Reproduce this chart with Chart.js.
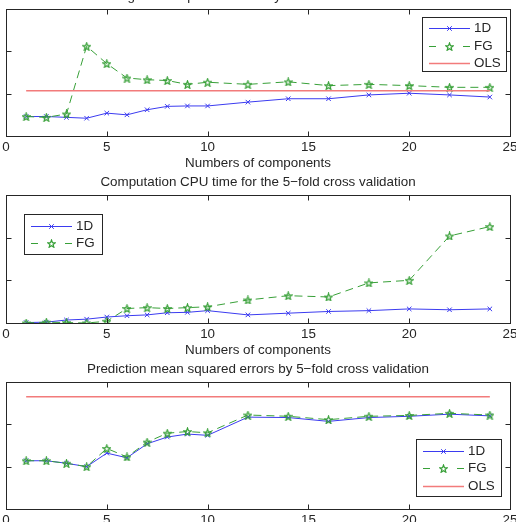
<!DOCTYPE html>
<html><head><meta charset="utf-8">
<script src="https://cdn.jsdelivr.net/npm/chart.js@4.4.0/dist/chart.umd.min.js"></script>
<style>
html,body{margin:0;padding:0;background:#fff;overflow:hidden;width:516px;height:522px;}
#wrap{position:relative;width:516px;height:522px;overflow:hidden;background:#fff;}
canvas{position:absolute;left:0;}
</style></head><body><div id="wrap">
<canvas id="c1" width="516" height="195" style="top:-19px"></canvas>
<canvas id="c2" width="516" height="196" style="top:167px"></canvas>
<canvas id="c3" width="516" height="195" style="top:354px"></canvas>
</div>
<script>
// ---------- data ----------
const components = [1,2,3,4,5,6,7,8,9,10,12,14,16,18,20,22,24];
const xTickLabels = [0,5,10,15,20,25];
const yTickValues = [0,1,2,3];

const fitTitle = "Fitting mean squared errors by 5\u2212fold cross validation";
const fit1D  = [0.46,0.46,0.44,0.42,0.54,0.50,0.62,0.70,0.71,0.71,0.80,0.88,0.88,0.97,1.01,0.97,0.92];
const fitFG  = [0.46,0.44,0.52,2.12,1.71,1.37,1.33,1.31,1.22,1.27,1.22,1.28,1.19,1.22,1.19,1.15,1.15];
const fitOLS = 1.07;

const cpuTitle = "Computation CPU time for the 5\u2212fold cross validation";
const cpu1D  = [0.01,0.02,0.07,0.09,0.14,0.17,0.19,0.24,0.25,0.29,0.19,0.23,0.27,0.29,0.33,0.31,0.33];
const cpuFG  = [0.00,0.02,0.01,0.00,0.04,0.34,0.36,0.34,0.36,0.38,0.54,0.64,0.61,0.94,1.00,2.04,2.26];

const predTitle = "Prediction mean squared errors by 5\u2212fold cross validation";
const pred1D  = [1.14,1.14,1.08,1.00,1.32,1.21,1.54,1.70,1.77,1.74,2.17,2.16,2.07,2.16,2.19,2.24,2.20];
const predFG  = [1.14,1.14,1.08,1.00,1.43,1.23,1.58,1.79,1.83,1.80,2.22,2.19,2.11,2.19,2.21,2.26,2.22];
const predOLS = 2.65;

const xAxisTitle = "Numbers of components";

// ---------- styles ----------
const BLUE = '#3b3bf0', GREEN = '#38a038', RED = '#f27b7b', INK = '#262626';
const FONT = '13.4px "Liberation Sans", Arial, Helvetica, sans-serif';

function makeStar(color, size) {
  const c = document.createElement('canvas'); c.width = c.height = size;
  const g = c.getContext('2d'); const cx = size/2, cy = size/2 + 0.5, R = size/2 - 0.5, r = R*0.42;
  g.beginPath();
  for (let i = 0; i < 10; i++) {
    const ang = -Math.PI/2 + i*Math.PI/5, rad = i % 2 ? r : R;
    g.lineTo(cx + rad*Math.cos(ang), cy + rad*Math.sin(ang));
  }
  g.closePath(); g.strokeStyle = color; g.lineWidth = 1.2; g.stroke();
  return c;
}
const STAR = makeStar(GREEN, 9);

function pts(vals) { return components.map((x, i) => ({x, y: vals[i]})); }
function flat(v) { return [{x: components[0], y: v}, {x: components[components.length-1], y: v}]; }

function ds1D(vals) { return {label:'1D', data: pts(vals), borderColor: BLUE, backgroundColor: BLUE, borderWidth: 1,
  pointStyle:'crossRot', pointRadius: 3.2, pointBorderWidth: 1, order: 2}; }
function dsFG(vals) { return {label:'FG', data: pts(vals), borderColor: GREEN, backgroundColor: GREEN, borderWidth: 1,
  borderDash:[8,5], pointStyle: STAR, pointRadius: 5, order: 1}; }
function dsOLS(v) { return {label:'OLS', data: flat(v), borderColor: RED, backgroundColor: RED, borderWidth: 1.6,
  pointRadius: 0, order: 0}; }

const deco = {
  id: 'deco',
  afterDraw(chart, args, o) {
    const ctx = chart.ctx, a = chart.chartArea, xs = chart.scales.x, ys = chart.scales.y;
    const L = Math.round(a.left) + 0.5, T = Math.round(a.top) + 0.5, R = Math.round(a.right) + 0.5, B = Math.round(a.bottom) + 0.5;
    ctx.save();
    ctx.strokeStyle = INK; ctx.lineWidth = 1; ctx.setLineDash([]);
    const seg = (x1,y1,x2,y2) => { ctx.beginPath(); ctx.moveTo(x1,y1); ctx.lineTo(x2,y2); ctx.stroke(); };
    ctx.strokeRect(L, T, R - L, B - T);
    xs.ticks.forEach(t => { const p = Math.round(xs.getPixelForValue(t.value)) + 0.5; seg(p, T, p, T + 5); seg(p, B, p, B - 5); });
    ys.ticks.forEach(t => { const p = Math.round(ys.getPixelForValue(t.value)) + 0.5; seg(L, p, L + 5, p); seg(R, p, R - 5, p); });
    ctx.fillStyle = INK; ctx.font = FONT; ctx.textAlign = 'center'; ctx.textBaseline = 'middle';
    xs.ticks.forEach(t => ctx.fillText(String(t.value), xs.getPixelForValue(t.value), a.bottom + 11));
    ctx.fillText(xAxisTitle, (a.left + a.right)/2, a.bottom + 27);
    ctx.fillText(o.title, (a.left + a.right)/2, a.top - 13);
    // legend
    const lg = o.legend, bx = a.left + lg.x, by = a.top + lg.y;
    ctx.fillStyle = '#fff'; ctx.fillRect(bx, by, lg.w, lg.h);
    ctx.strokeStyle = INK; ctx.strokeRect(Math.round(bx) + 0.5, Math.round(by) + 0.5, lg.w, lg.h);
    chart.data.datasets.forEach((d, i) => {
      const y = Math.round(by + 11.5 + i*17.5) + 0.5, x0 = bx + 7, x1 = x0 + 41, xm = (x0 + x1)/2;
      ctx.strokeStyle = d.borderColor; ctx.lineWidth = d.borderWidth;
      if (d.borderDash) { seg(x0, y, x0 + 7, y); seg(x1 - 7, y, x1, y); }
      else seg(x0, y, x1, y);
      if (d.pointStyle === 'crossRot') { ctx.lineWidth = 1; seg(xm-2.3, y-2.3, xm+2.3, y+2.3); seg(xm-2.3, y+2.3, xm+2.3, y-2.3); }
      else if (d.pointStyle && d.pointStyle.getContext) { ctx.drawImage(d.pointStyle, xm - d.pointStyle.width/2, y - d.pointStyle.height/2); }
      ctx.fillStyle = INK; ctx.textAlign = 'left'; ctx.fillText(d.label, bx + 52, y);
    });
    ctx.restore();
  }
};

function makeChart(id, datasets, title, legend) {
  return new Chart(document.getElementById(id), {
    type: 'line',
    data: { datasets },
    options: {
      responsive: false, maintainAspectRatio: false, animation: false, devicePixelRatio: 1,
      layout: { padding: { left: 6, right: 4, top: 28, bottom: 0 } },
      plugins: { legend: { display: false }, tooltip: { enabled: false }, title: { display: false }, deco: { title, legend } },
      elements: { line: { tension: 0 } },
      scales: {
        x: { type: 'linear', min: 0, max: 25,
             afterBuildTicks: s => { s.ticks = xTickLabels.map(v => ({value: v})); },
             afterFit: s => { s.height = 40; },
             ticks: { display: false }, grid: { display: false, drawTicks: false }, border: { display: false } },
        y: { type: 'linear', min: 0, max: 3,
             afterBuildTicks: s => { s.ticks = yTickValues.map(v => ({value: v})); },
             afterFit: s => { s.width = 0; },
             ticks: { display: false }, grid: { display: false, drawTicks: false }, border: { display: false } }
      }
    },
    plugins: [deco]
  });
}

makeChart('c1', [ds1D(fit1D), dsFG(fitFG), dsOLS(fitOLS)], fitTitle, {x: 416, y: 7.5, w: 84, h: 54});
makeChart('c2', [ds1D(cpu1D), dsFG(cpuFG)], cpuTitle, {x: 18, y: 19, w: 78, h: 40});
makeChart('c3', [ds1D(pred1D), dsFG(predFG), dsOLS(predOLS)], predTitle, {x: 410, y: 57, w: 85, h: 57});
</script>
</body></html>
